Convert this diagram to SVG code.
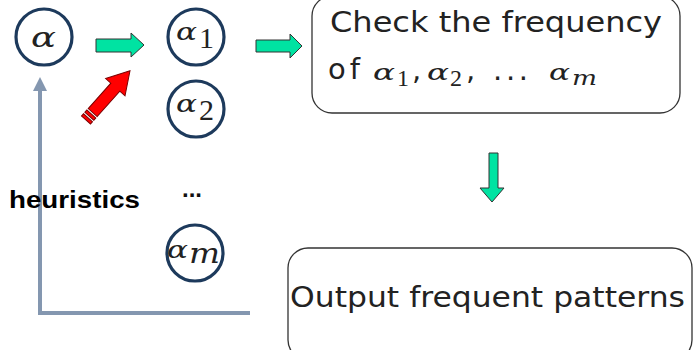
<svg xmlns="http://www.w3.org/2000/svg" width="694" height="350" viewBox="0 0 694 350">
<style>
.node circle{fill:#fff;stroke:#1d3a5c;stroke-width:3.2}
.math{font-family:"DejaVu Serif","Liberation Serif",serif;font-style:italic;fill:#222}
.sub{font-family:"Liberation Serif","DejaVu Serif",serif;font-style:normal;fill:#222}
.box rect{fill:#fff;stroke:#333;stroke-width:1.3}
.btxt{font-family:"DejaVu Sans","Liberation Sans",sans-serif;font-size:29px;fill:#222}
.green{fill:#00e3a2;stroke:#333;stroke-width:1}
</style>
<rect width="694" height="350" fill="#fff"/>
<g id="connectors">
  <polyline points="40,90 40,313 250,313" fill="none" stroke="#8497b0" stroke-width="4"/>
  <polygon points="40,77 33,91 47,91" fill="#8497b0"/>
  <polygon class="green" points="96,39 131,39 131,33 144,45 131,57 131,52 96,52"/>
  <polygon class="green" points="256,40 290,40 290,34 302,46 290,58 290,52 256,52"/>
  <polygon class="green" points="489,153 498,153 498,188 504,188 492,202 480,188 489,188"/>
  <g transform="translate(86,120) rotate(-48.2)">
    <polygon points="10,-6 44,-6 44,-13 66,0 44,13 44,6 10,6" fill="#f00" stroke="#7a0000" stroke-width="1"/>
    <rect x="0" y="-6" width="3" height="12" fill="#f00" stroke="#7a0000" stroke-width="1"/>
    <rect x="5" y="-6" width="3" height="12" fill="#f00" stroke="#7a0000" stroke-width="1"/>
  </g>
</g>
<g id="alpha" class="node">
  <circle cx="44" cy="37" r="28"/>
  <text class="math" x="31" y="47" font-size="28" textLength="25" lengthAdjust="spacingAndGlyphs">α</text>
</g>
<g id="alpha1" class="node">
  <circle cx="196" cy="37" r="28"/>
  <text class="math" x="176" y="40" font-size="25" textLength="21" lengthAdjust="spacingAndGlyphs">α</text>
  <text class="sub" x="199" y="48" font-size="30">1</text>
</g>
<g id="alpha2" class="node">
  <circle cx="196" cy="109" r="28"/>
  <text class="math" x="176" y="112" font-size="25" textLength="21" lengthAdjust="spacingAndGlyphs">α</text>
  <text class="sub" x="199" y="120" font-size="30">2</text>
</g>
<g id="dots">
  <text x="192" y="197" font-family="Liberation Sans,sans-serif" font-weight="bold" font-size="24" text-anchor="middle" fill="#111">...</text>
</g>
<g id="alpham" class="node">
  <circle cx="195" cy="253" r="28"/>
  <text class="math" x="167" y="258" font-size="25" textLength="21" lengthAdjust="spacingAndGlyphs">α</text>
  <text class="math" x="189" y="263" font-size="27" textLength="31" lengthAdjust="spacingAndGlyphs">m</text>
</g>
<g id="heuristics">
  <text x="9" y="208" font-family="Liberation Sans,sans-serif" font-weight="bold" font-size="24" textLength="131" lengthAdjust="spacingAndGlyphs" fill="#000">heuristics</text>
</g>
<g id="check" class="box">
  <rect x="312" y="-4" width="368" height="117" rx="20"/>
  <text class="btxt" x="330" y="32" textLength="332" lengthAdjust="spacingAndGlyphs">Check the frequency</text>
  <text class="btxt" x="328" y="79" letter-spacing="4">of</text>
  <text class="math" x="373" y="80" font-size="22" textLength="22" lengthAdjust="spacingAndGlyphs">α</text>
  <text class="sub" x="397" y="86" font-size="24">1</text>
  <text class="btxt" x="412" y="80">,</text>
  <text class="math" x="427" y="80" font-size="22" textLength="22" lengthAdjust="spacingAndGlyphs">α</text>
  <text class="sub" x="450" y="86" font-size="24">2</text>
  <text class="btxt" x="466" y="80">,</text>
  <text class="btxt" x="493" y="80" textLength="35">...</text>
  <text class="math" x="549" y="80" font-size="22" textLength="21" lengthAdjust="spacingAndGlyphs">α</text>
  <text class="math" x="572" y="85" font-size="20" textLength="25" lengthAdjust="spacingAndGlyphs">m</text>
</g>
<g id="output" class="box">
  <rect x="288" y="248" width="404" height="112" rx="20"/>
  <text class="btxt" x="290" y="307" textLength="395" lengthAdjust="spacingAndGlyphs">Output frequent patterns</text>
</g>
</svg>
